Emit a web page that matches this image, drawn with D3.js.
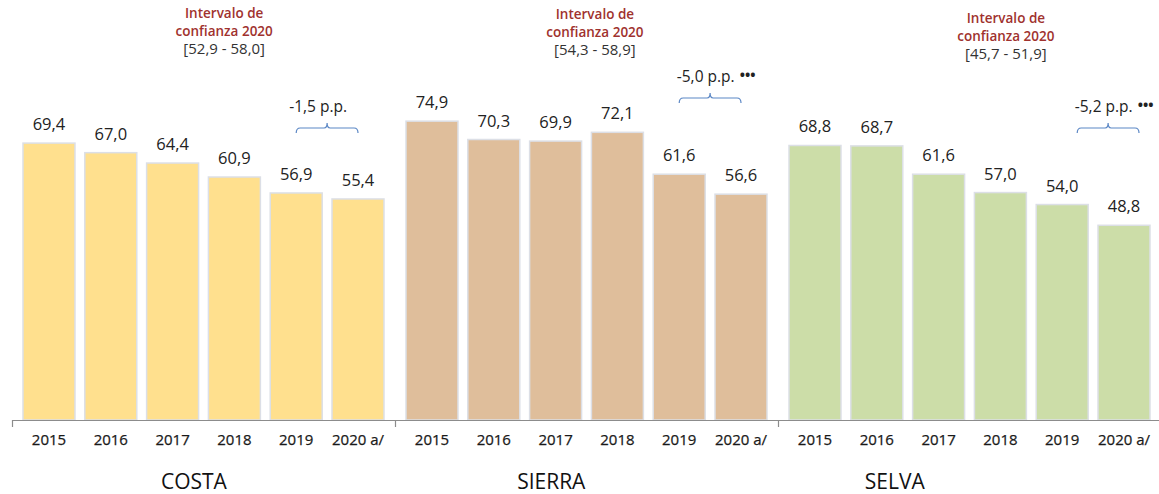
<!DOCTYPE html>
<html><head><meta charset="utf-8">
<script src="https://cdn.jsdelivr.net/npm/d3@7"></script>
<style>body{margin:0;background:#fff}svg{display:block}text{font-family:"Open Sans",sans-serif}</style>
</head><body><svg id="c" width="1159" height="494"></svg>
<script>
const regions = ["COSTA", "SIERRA", "SELVA"];
const years = ["2015", "2016", "2017", "2018", "2019", "2020 a/"];
const costa = [69.4, 67.0, 64.4, 60.9, 56.9, 55.4];
const sierra = [74.9, 70.3, 69.9, 72.1, 61.6, 56.6];
const selva = [68.8, 68.7, 61.6, 57.0, 54.0, 48.8];
const series = [costa, sierra, selva];
const intervals = ["[52,9 - 58,0]", "[54,3 - 58,9]", "[45,7 - 51,9]"];
const changes = ["-1,5 p.p.", "-5,0 p.p.", "-5,2 p.p."];
const significance = ["", "•••", "•••"];
const colors = ["#FFE08E", "#DFBE9B", "#CCDDA8"];

const svg = d3.select("#c");
const y = d3.scaleLinear().domain([0, 100]).range([420, 21]);
const gx = d3.scaleBand().domain(regions).range([12, 1161]).padding(0);
const W = gx.bandwidth();
const bx = d3.scaleBand().domain(years).range([0, W]).paddingInner(0.159).paddingOuter(0.178);

// layout fractions for annotations
const titleFrac = [0.475, 0.408, 0.305];
const ciFrac = [0.554, 0.522, 0.595];
const ciTop = [18, 19, 23];
const chgY = [128, 98, 128];
const bracketShift = [0, 0, 15];

regions.forEach((r, gi) => {
  const g = svg.append("g").attr("transform", `translate(${gx(r)},0)`);
  const vals = series[gi];
  g.selectAll("rect").data(vals).join("rect")
    .attr("x", (d, i) => bx(years[i]))
    .attr("width", bx.bandwidth())
    .attr("y", d => y(d))
    .attr("height", d => y(0) - y(d))
    .attr("fill", colors[gi])
    .attr("stroke", "#dcdfe6").attr("stroke-width", 1.5);
  g.selectAll("text.v").data(vals).join("text").attr("class", "v")
    .attr("x", (d, i) => bx(years[i]) + bx.bandwidth() / 2)
    .attr("y", d => y(d) - 13)
    .attr("text-anchor", "middle").attr("font-size", 16.5).attr("fill", "#222")
    .text(d => d.toFixed(1).replace(".", ","));
  g.selectAll("text.yr").data(years).join("text").attr("class", "yr")
    .attr("x", d => bx(d) + bx.bandwidth() / 2)
    .attr("y", 445)
    .attr("text-anchor", "middle").attr("font-size", 15).attr("fill", "#1a1a1a")
    .attr("stroke", "#1a1a1a").attr("stroke-width", 0.25)
    .text(d => d);
  g.append("text").attr("x", W * titleFrac[gi]).attr("y", 489)
    .attr("text-anchor", "middle").attr("font-size", 21).attr("fill", "#111").text(r);
  // confidence interval
  const cx = W * ciFrac[gi];
  const ci = g.append("text").attr("text-anchor", "middle").attr("font-size", 13.5);
  ci.append("tspan").attr("x", cx).attr("y", ciTop[gi]).attr("fill", "#A0322E").attr("font-weight", 600).text("Intervalo de");
  ci.append("tspan").attr("x", cx).attr("y", ciTop[gi] + 18).attr("fill", "#A0322E").attr("font-weight", 600).text("confianza 2020");
  ci.append("tspan").attr("x", cx).attr("y", ciTop[gi] + 36).attr("fill", "#333").attr("font-size", 15).text(intervals[gi]);
  // change bracket between 2019 and 2020
  const x1 = bx(years[4]) + bx.bandwidth() / 2 + bracketShift[gi];
  const x2 = bx(years[5]) + bx.bandwidth() / 2 + bracketShift[gi];
  const by = chgY[gi], mx = (x1 + x2) / 2;
  const p = d3.path();
  p.moveTo(x1, by + 5); p.quadraticCurveTo(x1, by, x1 + 4, by);
  p.lineTo(mx - 3, by); p.quadraticCurveTo(mx, by, mx, by - 5);
  p.quadraticCurveTo(mx, by, mx + 3, by);
  p.lineTo(x2 - 4, by); p.quadraticCurveTo(x2, by, x2, by + 5);
  g.append("path").attr("d", p.toString()).attr("fill", "none").attr("stroke", "#5B87C5").attr("stroke-width", 1.2);
  const t = g.append("text").attr("x", mx - (significance[gi] ? -6 : 9)).attr("y", by - 16)
    .attr("text-anchor", "middle").attr("font-size", 15.5).attr("fill", "#222");
  t.append("tspan").text(changes[gi]);
  if (significance[gi]) t.append("tspan").attr("font-weight", 700).attr("font-size", 14).attr("dx", 5).attr("dy", -2).text(significance[gi]);
});

// axis
const axis = svg.append("g");
axis.append("line").attr("x1", 12).attr("x2", 1159).attr("y1", 420.5).attr("y2", 420.5).attr("stroke", "#8c8c8c").attr("stroke-width", 1.2);
axis.selectAll("line.t").data(regions.concat(["end"])).join("line").attr("class", "t")
  .attr("x1", (d, i) => 12 + i * W + 0.5).attr("x2", (d, i) => 12 + i * W + 0.5)
  .attr("y1", 420).attr("y2", 427).attr("stroke", "#8c8c8c").attr("stroke-width", 1.2);
</script></body></html>
